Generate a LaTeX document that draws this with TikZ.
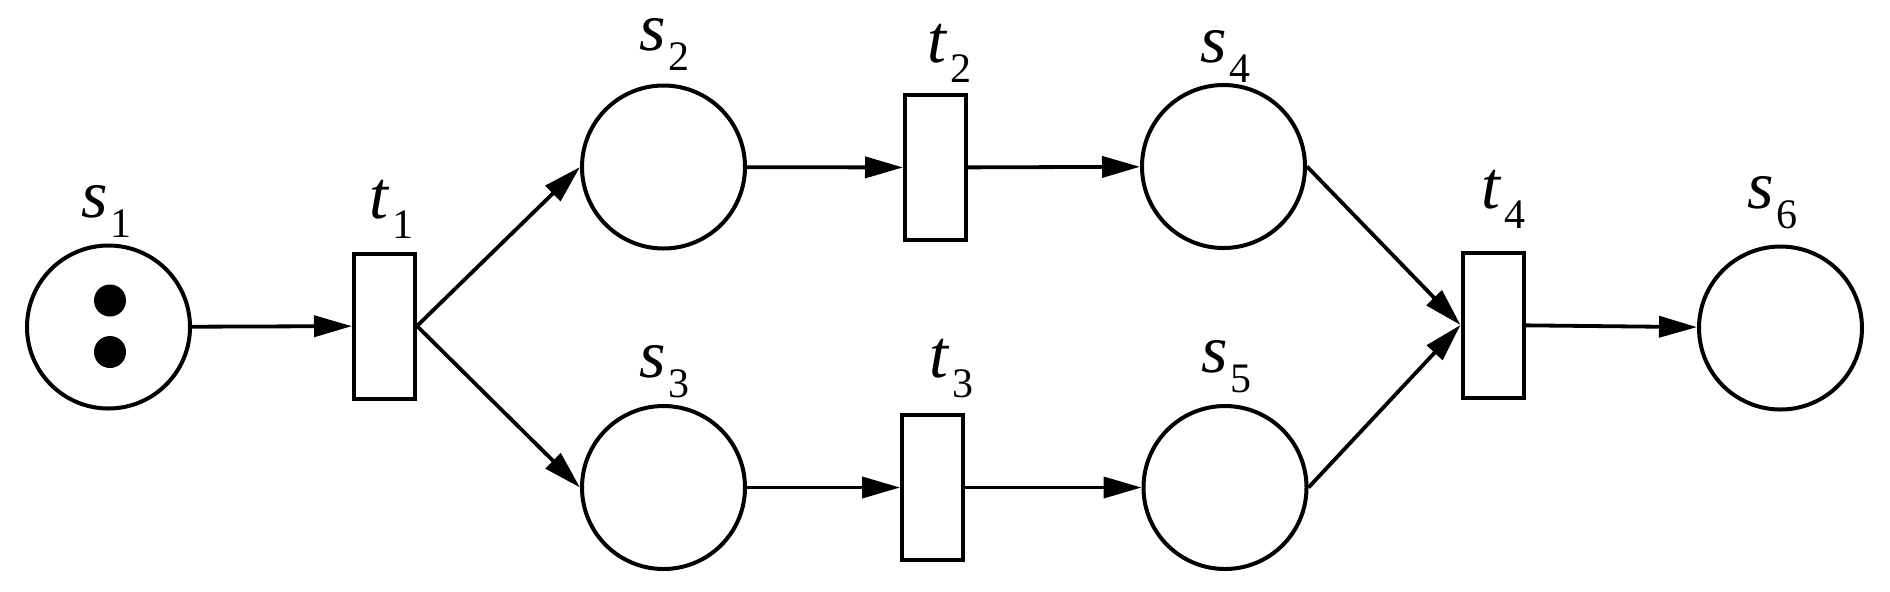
\documentclass[tikz,border=0pt]{standalone}
\usepackage{fontspec}
\setmainfont{Liberation Serif}
\usetikzlibrary{arrows.meta}
\newcommand{\pnlab}[2]{\textit{#1}\kern1.5pt\raisebox{-10pt}{\fontsize{21pt}{21pt}\selectfont #2}}
\begin{document}
\begin{tikzpicture}[x=0.5pt,y=-0.5pt,
  place/.style={draw,circle,line width=2pt,minimum size=81.5pt,inner sep=0pt},
  trans/.style={draw,rectangle,line width=2pt,minimum width=30.5pt,minimum height=72.5pt,inner sep=0pt},
  token/.style={fill,circle,minimum size=16pt,inner sep=0pt},
  lab/.style={anchor=base west,inner sep=0pt,font=\fontsize{34pt}{34pt}\selectfont},
  arc/.style={line width=1.9pt,-{Triangle[length=19pt,width=10.5pt]}}]
\useasboundingbox (0,0) rectangle (1890,591);
% places
\node[place] (s1) at (108.5,327) {};
\node[place] (s2) at (663.5,167) {};
\node[place] (s3) at (663.5,487.5) {};
\node[place] (s4) at (1223.5,166.5) {};
\node[place] (s5) at (1225,487.5) {};
\node[place] (s6) at (1780.5,328) {};
% transitions
\node[trans] (t1) at (384.5,326) {};
\node[trans] (t2) at (935.5,167.5) {};
\node[trans] (t3) at (932.5,487.5) {};
\node[trans] (t4) at (1493,325) {};
% tokens
\node[token] (k1) at (110,300.5) {};
\node[token] (k2) at (110,352) {};
% labels
\node[lab] (ls1) at (81,217) {\pnlab{s}{1}};
\node[lab] (ls2) at (639,50) {\pnlab{s}{2}};
\node[lab] (ls3) at (639,377) {\pnlab{s}{3}};
\node[lab] (ls4) at (1200,62) {\pnlab{s}{4}};
\node[lab] (ls5) at (1201,372) {\pnlab{s}{5}};
\node[lab] (ls6) at (1747,208) {\pnlab{s}{6}};
\node[lab] (lt1) at (369,218) {\pnlab{t}{1}};
\node[lab] (lt2) at (927,62) {\pnlab{t}{2}};
\node[lab] (lt3) at (929,377) {\pnlab{t}{3}};
\node[lab] (lt4) at (1481,208) {\pnlab{t}{4}};
% arcs
\draw[arc] (s1) -- (t1);
\draw[arc] (t1.east) -- (s2.west);
\draw[arc] (t1.east) -- (s3.west);
\draw[arc] (s2) -- (t2);
\draw[arc] (s3) -- (t3);
\draw[arc] (t2) -- (s4);
\draw[arc] (t3) -- (s5);
\draw[arc] (s4.east) -- (t4.west);
\draw[arc] (s5.east) -- (t4.west);
\draw[arc] (t4) -- (s6);
\end{tikzpicture}
\end{document}
